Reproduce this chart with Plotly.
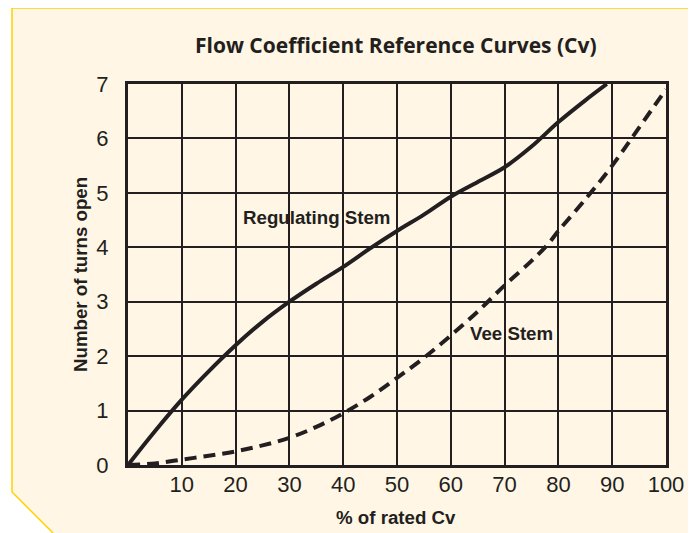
import plotly.graph_objects as go

# ---- data ----
reg_x = [0, 5, 10, 15, 20, 25, 30, 35, 40, 45, 50, 55, 60, 65, 70, 75, 80, 85, 89]
reg_y = [0, 0.62, 1.2, 1.72, 2.2, 2.63, 3.0, 3.33, 3.64, 3.98, 4.3, 4.6, 4.93, 5.2, 5.47, 5.85, 6.3, 6.7, 7.0]

vee_x = [0, 5, 10, 15, 20, 25, 30, 35, 40, 45, 50, 55, 60, 65, 70, 75, 78, 80, 85, 90, 95, 100]
vee_y = [0, 0.03, 0.1, 0.17, 0.25, 0.36, 0.5, 0.7, 0.95, 1.25, 1.6, 1.97, 2.38, 2.82, 3.3, 3.75, 4.05, 4.3, 4.88, 5.5, 6.2, 6.9]

x_ticks = [10, 20, 30, 40, 50, 60, 70, 80, 90, 100]
y_ticks = [0, 1, 2, 3, 4, 5, 6, 7]

title_text = "Flow Coefficient Reference Curves (Cv)"
x_title = "% of rated Cv"
y_title = "Number of turns open"

INK = "#231F20"
CREAM = "#FFF6E5"
YELLOW = "#FFD200"

OFF = 8  # page body margin
W, H = 696 - OFF, 533 - OFF
ML, MR, MT, MB = 128 - OFF, 30, 84 - OFF, 68
PW, PH = W - ML - MR, H - MT - MB


def px(x):  # window pixel -> paper
    return (x - OFF - ML) / PW


def py(y):
    return (H - MB - (y - OFF)) / PH


fig = go.Figure()
fig.add_trace(go.Scatter(x=reg_x, y=reg_y, mode="lines", line=dict(color=INK, width=4, shape="spline"),
                         hoverinfo="skip", showlegend=False))
fig.add_trace(go.Scatter(x=vee_x, y=vee_y, mode="lines", line=dict(color=INK, width=4, shape="spline", dash="12px,7px"),
                         hoverinfo="skip", showlegend=False))

panel = f"M {px(12)} {py(8)} L {px(696)} {py(8)} L {px(696)} {py(533)} L {px(53)} {py(533)} L {px(12)} {py(492)} Z"
border = f"M {px(696)} {py(8)} L {px(12)} {py(8)} L {px(12)} {py(492)} L {px(53)} {py(533)}"

fig.update_layout(
    width=W, height=H,
    margin=dict(l=ML, r=MR, t=MT, b=MB),
    paper_bgcolor="white",
    plot_bgcolor="rgba(0,0,0,0)",
    shapes=[
        dict(type="path", xref="paper", yref="paper", path=panel, fillcolor=CREAM, line=dict(width=0), layer="below"),
        dict(type="path", xref="paper", yref="paper", path=border, line=dict(color=YELLOW, width=1.5), layer="below"),
    ],
    xaxis=dict(range=[0, 100], tickvals=x_ticks, showgrid=True, gridcolor=INK, gridwidth=1.5,
               showline=True, linecolor=INK, linewidth=3, mirror=True, zeroline=False, ticks="",
               ticklabelstandoff=-2,
               tickfont=dict(family="Liberation Sans, Arial", size=22, color=INK)),
    yaxis=dict(range=[0, 7], tickvals=y_ticks, showgrid=True, gridcolor=INK, gridwidth=1.5,
               showline=True, linecolor=INK, linewidth=3, mirror=True, zeroline=False, ticks="",
               ticklabelstandoff=12,
               tickfont=dict(family="Liberation Sans, Arial", size=22, color=INK)),
    annotations=[
        dict(text="<b>" + title_text + "</b>", xref="paper", yref="paper", x=px(396), y=py(45),
             xanchor="center", yanchor="middle", showarrow=False,
             font=dict(family="Open Sans", size=21, color=INK)),
        dict(text="<b>" + x_title + "</b>", xref="paper", yref="paper", x=px(396), y=py(517),
             xanchor="center", yanchor="middle", showarrow=False,
             font=dict(family="Liberation Sans, Arial", size=18.7, color=INK)),
        dict(text="<b>" + y_title + "</b>", xref="paper", yref="paper", x=px(80), y=py(275),
             xanchor="center", yanchor="middle", showarrow=False, textangle=-90,
             font=dict(family="Liberation Sans, Arial", size=18.7, color=INK)),
        dict(text="<b>Regulating Stem</b>", x=35.1, y=4.54, xref="x", yref="y", showarrow=False,
             xanchor="center", yanchor="middle",
             font=dict(family="Liberation Sans, Arial", size=18.7, color=INK)),
        dict(text="<b>Vee Stem</b>", x=71.2, y=2.41, xref="x", yref="y", showarrow=False,
             xanchor="center", yanchor="middle",
             font=dict(family="Liberation Sans, Arial", size=18.7, color=INK)),
    ],
)

fig.write_html("out.html")
